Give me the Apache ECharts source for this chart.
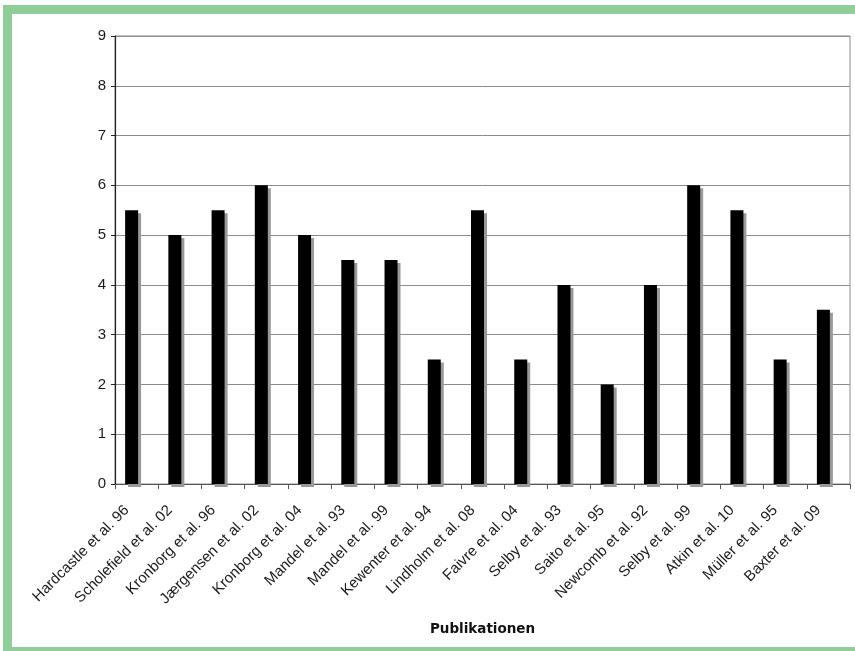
<!DOCTYPE html>
<html><head><meta charset="utf-8">
<script src="https://cdn.jsdelivr.net/npm/echarts@6/dist/echarts.min.js"></script>
<style>html,body{margin:0;padding:0;background:#fff}#c{width:855px;height:651px}</style>
</head><body><div id="c"></div>
<script>
const categories = ["Hardcastle et al. 96","Scholefield et al. 02","Kronborg et al. 96","Jærgensen et al. 02","Kronborg et al. 04","Mandel et al. 93","Mandel et al. 99","Kewenter et al. 94","Lindholm et al. 08","Faivre et al. 04","Selby et al. 93","Saito et al. 95","Newcomb et al. 92","Selby et al. 99","Atkin et al. 10","Müller et al. 95","Baxter et al. 09"];
const values = [5.5,5,5.5,6,5,4.5,4.5,2.5,5.5,2.5,4,2,4,6,5.5,2.5,3.5];
const yTicks = {min:0,max:9,interval:1};
const xTitle = "Publikationen";

const chart = echarts.init(document.getElementById('c'), null, {renderer:'canvas'});
chart.setOption({
  animation:false,
  backgroundColor:'#fff',
  textStyle:{fontFamily:'Liberation Sans, Arial, sans-serif'},
  grid:{left:115,top:36,right:5,bottom:167,show:true,borderColor:'#8c8c8c',borderWidth:1,backgroundColor:'#fff'},
  xAxis:{
    type:'category',data:categories,
    axisLine:{lineStyle:{color:'#555',width:1.2}},
    axisTick:{show:true,alignWithLabel:false,length:5,lineStyle:{color:'#555'}},
    axisLabel:{rotate:45,interval:0,margin:14,padding:[0,14,0,0],fontSize:15,color:'#1a1a1a'},
    name:xTitle,nameLocation:'middle',nameGap:138,
    nameTextStyle:{fontWeight:'bold',fontSize:13.5,color:'#111',fontFamily:'DejaVu Sans'}
  },
  yAxis:{
    type:'value',min:yTicks.min,max:yTicks.max,interval:yTicks.interval,
    axisLine:{show:true,lineStyle:{color:'#222',width:1.2}},
    axisTick:{show:true,length:4,lineStyle:{color:'#222'}},
    axisLabel:{fontSize:15,color:'#1a1a1a',margin:9},
    splitLine:{lineStyle:{color:'#8c8c8c',width:1}}
  },
  series:[
    {type:'bar',data:values,barWidth:13,barGap:'0%',
     itemStyle:{color:'#000',shadowColor:'#999',shadowBlur:0,shadowOffsetX:3,shadowOffsetY:3}},
    {type:'bar',data:[],barWidth:10,silent:true,itemStyle:{color:'transparent'}}
  ],
  graphic:[
    {type:'rect',shape:{x:7.5,y:9.5,width:870,height:642},style:{fill:null,stroke:'#8fce98',lineWidth:9},silent:true,z:100}
  ]
});
</script></body></html>
